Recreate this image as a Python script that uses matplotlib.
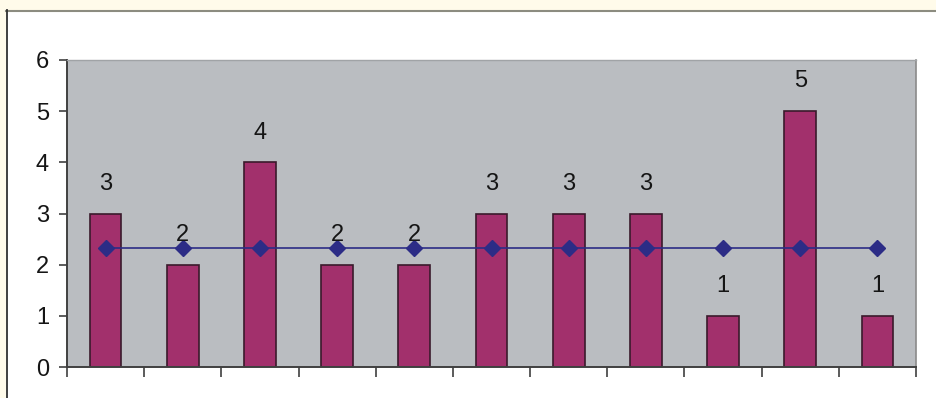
import matplotlib.pyplot as plt
from matplotlib.patches import Rectangle
from matplotlib.lines import Line2D

plt.rcParams['font.family'] = ['Liberation Sans', 'DejaVu Sans']

# scores per item and the overall average line
values = [3, 2, 4, 2, 2, 3, 3, 3, 1, 5, 1]
average = 2.33
y_ticks = [0, 1, 2, 3, 4, 5, 6]

bar_color = "#a2306c"
line_color = "#2c2c86"


def draw_frame(fig):
    # cream strip along the top and left edges with a thin border
    fig.patches.append(Rectangle((0, 1 - 10 / 398), 1, 10 / 398, transform=fig.transFigure,
                                 facecolor="#fffbea", edgecolor="none", zorder=0))
    fig.patches.append(Rectangle((0, 0), 6 / 936, 1, transform=fig.transFigure,
                                 facecolor="#fffbea", edgecolor="none", zorder=0))
    fig.lines.append(Line2D([6 / 936, 1], [1 - 10.5 / 398] * 2, transform=fig.transFigure,
                            color="#8c8c80", lw=1.5))
    fig.lines.append(Line2D([6.5 / 936] * 2, [0, 1 - 10 / 398], transform=fig.transFigure,
                            color="#303030", lw=1.3))


if __name__ == "__main__":
    fig = plt.figure(figsize=(9.36, 3.98), dpi=100)
    fig.patch.set_facecolor("white")
    draw_frame(fig)

    ax = fig.add_axes([67 / 936, 31 / 398, 849 / 936, 307 / 398])
    ax.set_facecolor("#babdc1")

    x = list(range(len(values)))
    ax.bar(x, values, width=0.41, color=bar_color, edgecolor="#3a1a2c", linewidth=1.2, zorder=2)
    ax.plot(x, [average] * len(values), color=line_color, lw=1.2, marker="D",
            markersize=8, markerfacecolor=line_color, markeredgecolor=line_color, zorder=3)

    for i, v in enumerate(values):
        ax.text(i, v + 0.58, str(v), ha="center", va="center", fontsize=17, color="#151515", zorder=4)

    ax.set_xlim(-0.5, len(values) - 0.5)
    ax.set_ylim(0, 6)
    ax.set_yticks(y_ticks)
    ax.set_yticklabels([str(t) for t in y_ticks], fontsize=17, color="#151515")
    ax.set_xticks([i - 0.5 for i in range(len(values) + 1)])
    ax.set_xticklabels([])
    ax.tick_params(axis="y", direction="out", length=6, width=1.2, color="#404040", pad=7)
    ax.tick_params(axis="x", direction="out", length=7, width=1.2, color="#404040")

    ax.spines["left"].set_color("#404040")
    ax.spines["left"].set_linewidth(1.4)
    ax.spines["bottom"].set_color("#404040")
    ax.spines["bottom"].set_linewidth(1.4)
    ax.spines["right"].set_color("#8a8a8a")
    ax.spines["right"].set_linewidth(1.2)
    ax.spines["top"].set_color("#a0a3a6")
    ax.spines["top"].set_linewidth(1.0)

    fig.savefig("out.png", dpi=100, facecolor=fig.get_facecolor())
